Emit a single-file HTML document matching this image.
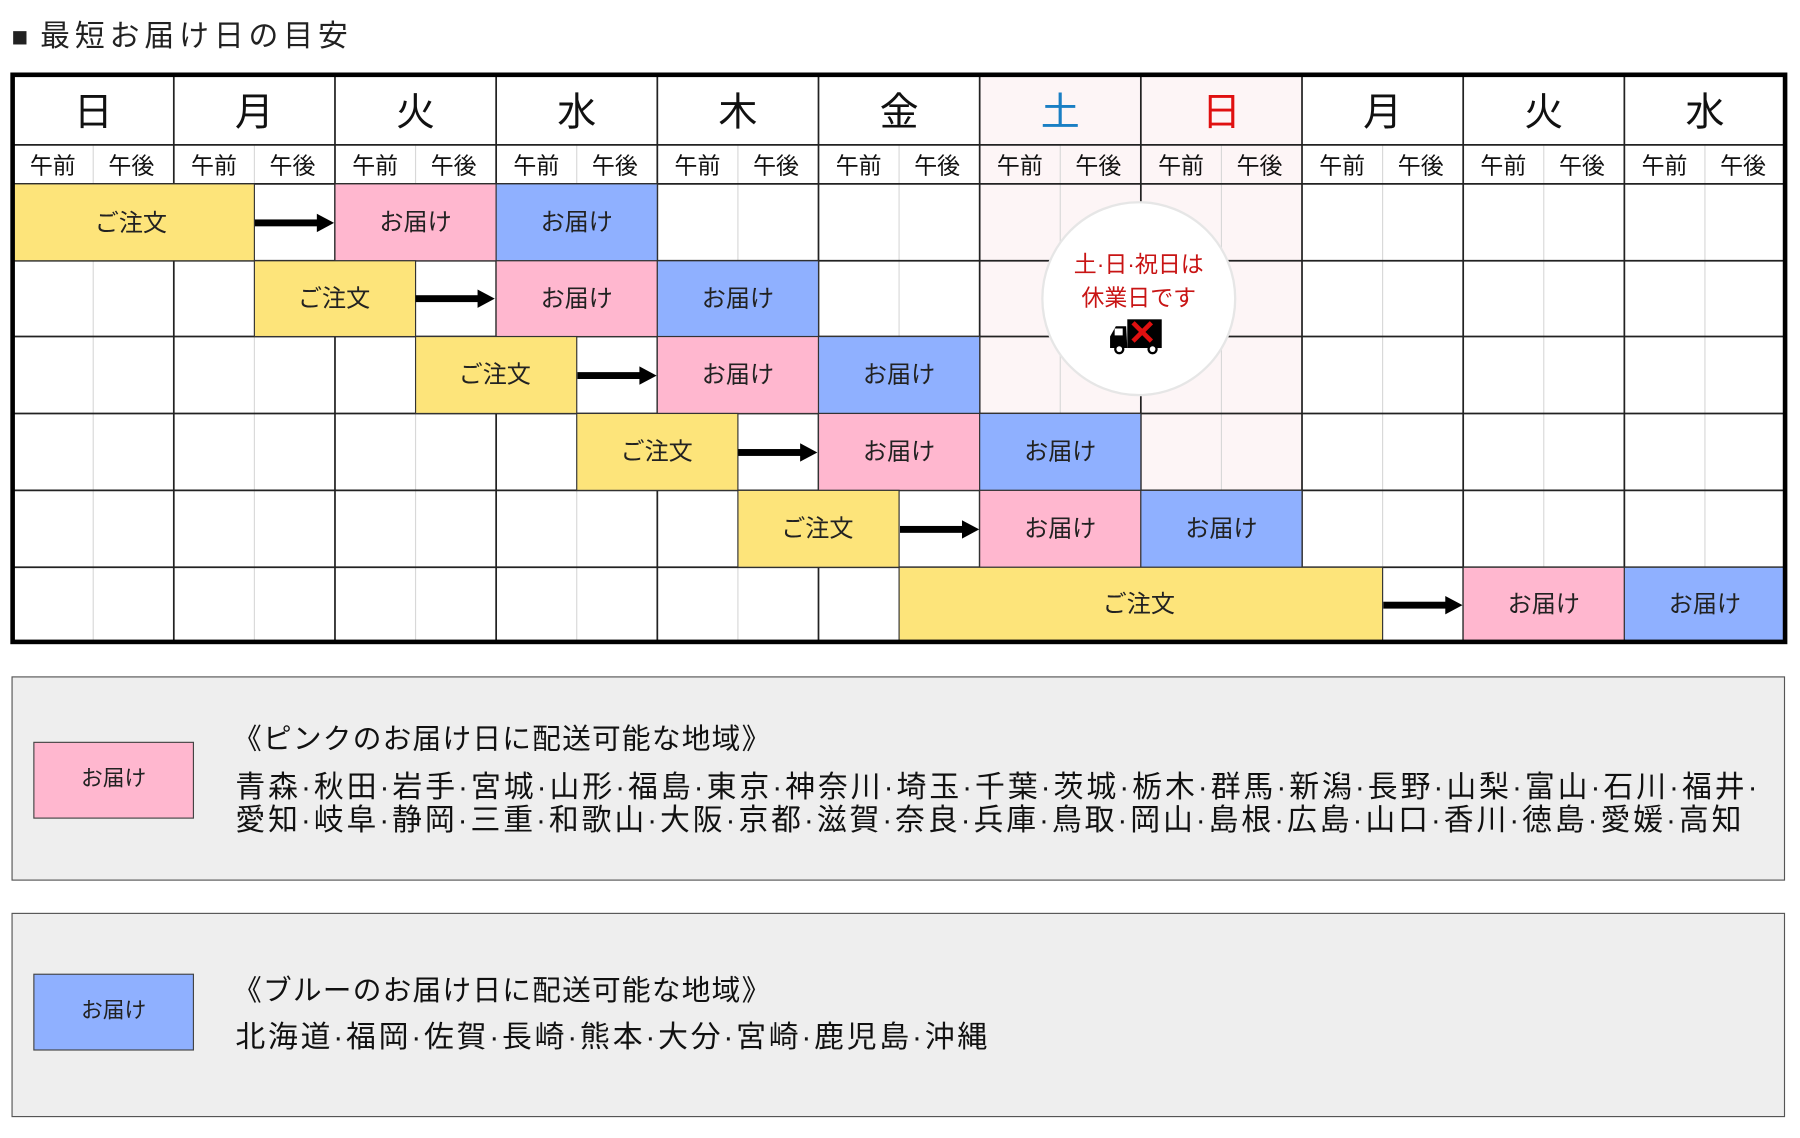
<!DOCTYPE html>
<html><head><meta charset="utf-8"><style>
html,body{margin:0;padding:0;background:#fff;width:1800px;height:1138px;overflow:hidden}
svg{display:block}
text{font-family:"Liberation Sans","Noto Sans CJK JP",sans-serif;}
</style></head><body>
<svg width="1800" height="1138" viewBox="0 0 1568 991" xmlns="http://www.w3.org/2000/svg">
<rect width="1568" height="991" fill="#fff"/>
<text x="10" y="40" font-size="24" fill="#222">■</text>
<text x="35" y="40" font-size="26" fill="#222" textLength="268">最短お届け日の目安</text>

<rect x="853.4" y="65" width="280.8" height="362" fill="#fdf5f6"/>

<g stroke="#d8d8d8" stroke-width="1">
<line x1="81.2" y1="126" x2="81.2" y2="559"/><line x1="221.6" y1="126" x2="221.6" y2="559"/>
<line x1="362" y1="126" x2="362" y2="559"/><line x1="502.4" y1="126" x2="502.4" y2="559"/>
<line x1="642.8" y1="126" x2="642.8" y2="559"/><line x1="783.2" y1="126" x2="783.2" y2="559"/>
<line x1="923.6" y1="126" x2="923.6" y2="559"/><line x1="1064" y1="126" x2="1064" y2="559"/>
<line x1="1204.4" y1="126" x2="1204.4" y2="559"/><line x1="1344.8" y1="126" x2="1344.8" y2="559"/>
<line x1="1485.2" y1="126" x2="1485.2" y2="559"/>
</g>
<g stroke="#222" stroke-width="1.5">
<line x1="151.4" y1="65" x2="151.4" y2="559"/><line x1="291.8" y1="65" x2="291.8" y2="559"/>
<line x1="432.2" y1="65" x2="432.2" y2="559"/><line x1="572.6" y1="65" x2="572.6" y2="559"/>
<line x1="713" y1="65" x2="713" y2="559"/><line x1="853.4" y1="65" x2="853.4" y2="559"/>
<line x1="993.8" y1="65" x2="993.8" y2="559"/><line x1="1134.2" y1="65" x2="1134.2" y2="559"/>
<line x1="1274.6" y1="65" x2="1274.6" y2="559"/><line x1="1415" y1="65" x2="1415" y2="559"/>
<line x1="11" y1="126" x2="1555" y2="126"/><line x1="11" y1="160" x2="1555" y2="160"/>
<line x1="11" y1="227" x2="1555" y2="227"/><line x1="11" y1="293" x2="1555" y2="293"/>
<line x1="11" y1="360" x2="1555" y2="360"/><line x1="11" y1="427" x2="1555" y2="427"/>
<line x1="11" y1="494" x2="1555" y2="494"/>
</g>

<g font-size="34" text-anchor="middle" fill="#111">
<text x="81.2" y="109">日</text><text x="221.6" y="109">月</text><text x="362" y="109">火</text>
<text x="502.4" y="109">水</text><text x="642.8" y="109">木</text><text x="783.2" y="109">金</text>
<text x="923.6" y="109" fill="#1a7fc4">土</text><text x="1064" y="109" fill="#e01010">日</text>
<text x="1204.4" y="109">月</text><text x="1344.8" y="109">火</text><text x="1485.2" y="109">水</text>
</g>
<g font-size="20" text-anchor="middle" fill="#111">
<text x="46" y="151">午前</text><text x="114.4" y="151">午後</text>
<text x="186.4" y="151">午前</text><text x="254.8" y="151">午後</text>
<text x="326.8" y="151">午前</text><text x="395.2" y="151">午後</text>
<text x="467.2" y="151">午前</text><text x="535.6" y="151">午後</text>
<text x="607.6" y="151">午前</text><text x="676" y="151">午後</text>
<text x="748" y="151">午前</text><text x="816.4" y="151">午後</text>
<text x="888.4" y="151">午前</text><text x="956.8" y="151">午後</text>
<text x="1028.8" y="151">午前</text><text x="1097.2" y="151">午後</text>
<text x="1169.2" y="151">午前</text><text x="1237.6" y="151">午後</text>
<text x="1309.6" y="151">午前</text><text x="1378" y="151">午後</text>
<text x="1450" y="151">午前</text><text x="1518.4" y="151">午後</text>
</g>

<g stroke="#333" stroke-width="1">
<rect x="11" y="160" width="210.6" height="67" fill="#fde47a"/>
<rect x="291.8" y="160" width="140.4" height="67" fill="#ffb7cf"/>
<rect x="432.2" y="160" width="140.4" height="67" fill="#8fb0ff"/>
<rect x="221.6" y="227" width="140.4" height="66" fill="#fde47a"/>
<rect x="432.2" y="227" width="140.4" height="66" fill="#ffb7cf"/>
<rect x="572.6" y="227" width="140.4" height="66" fill="#8fb0ff"/>
<rect x="362" y="293" width="140.4" height="67" fill="#fde47a"/>
<rect x="572.6" y="293" width="140.4" height="67" fill="#ffb7cf"/>
<rect x="713" y="293" width="140.4" height="67" fill="#8fb0ff"/>
<rect x="502.4" y="360" width="140.4" height="67" fill="#fde47a"/>
<rect x="713" y="360" width="140.4" height="67" fill="#ffb7cf"/>
<rect x="853.4" y="360" width="140.4" height="67" fill="#8fb0ff"/>
<rect x="642.8" y="427" width="140.4" height="67" fill="#fde47a"/>
<rect x="853.4" y="427" width="140.4" height="67" fill="#ffb7cf"/>
<rect x="993.8" y="427" width="140.4" height="67" fill="#8fb0ff"/>
<rect x="783.2" y="494" width="421.2" height="65" fill="#fde47a"/>
<rect x="1274.6" y="494" width="140.4" height="65" fill="#ffb7cf"/>
<rect x="1415" y="494" width="140.4" height="65" fill="#8fb0ff"/>
</g>
<g font-size="21" text-anchor="middle" fill="#222">
<text x="114" y="201">ご注文</text><text x="362" y="200">お届け</text><text x="502.4" y="200">お届け</text>
<text x="291" y="267">ご注文</text><text x="502.4" y="267">お届け</text><text x="642.8" y="267">お届け</text>
<text x="431" y="333">ご注文</text><text x="642.8" y="333">お届け</text><text x="783.2" y="333">お届け</text>
<text x="572" y="400">ご注文</text><text x="783.2" y="400">お届け</text><text x="923.6" y="400">お届け</text>
<text x="712" y="467">ご注文</text><text x="923.6" y="467">お届け</text><text x="1064" y="467">お届け</text>
<text x="992" y="533">ご注文</text><text x="1344.8" y="533">お届け</text><text x="1485.2" y="533">お届け</text>
</g>

<g fill="#000">
<rect x="222" y="191" width="55" height="6"/><polygon points="276,186 291,194 276,202"/>
<rect x="362" y="257" width="55" height="6"/><polygon points="416,252 431,260 416,268"/>
<rect x="503" y="324" width="55" height="6"/><polygon points="557,319 572,327 557,335"/>
<rect x="643" y="391" width="55" height="6"/><polygon points="697,386 712,394 697,402"/>
<rect x="784" y="458" width="55" height="6"/><polygon points="838,453 853,461 838,469"/>
<rect x="1205" y="524" width="55" height="6"/><polygon points="1259,519 1274,527 1259,535"/>
</g>

<rect x="11" y="65" width="1544" height="494" fill="none" stroke="#000" stroke-width="4"/>

<circle cx="992" cy="260" r="84" fill="#fff" stroke="#e6e6e6" stroke-width="2"/>
<g font-size="20" text-anchor="middle" fill="#c81414">
<text x="992" y="237">土·日·祝日は</text>
<text x="992" y="266">休業日です</text>
</g>
<g>
<rect x="982" y="278" width="30" height="25" fill="#000"/>
<path d="M981 284 L972 284 L967 293 L967 303 L982 303 Z" fill="#000"/>
<rect x="971" y="286" width="7" height="6" fill="#fff"/>
<circle cx="975" cy="304" r="3.5" fill="#fff" stroke="#000" stroke-width="2"/>
<circle cx="1004" cy="304" r="3.5" fill="#fff" stroke="#000" stroke-width="2"/>
<path d="M987 281 L1003 297 M1003 281 L987 297" stroke="#e01010" stroke-width="4"/>
</g>

<rect x="10.5" y="589.5" width="1544" height="177" fill="#eee" stroke="#555" stroke-width="1"/>
<rect x="29.5" y="646.5" width="139" height="66" fill="#ffb7cf" stroke="#444" stroke-width="1"/>
<text x="99" y="684" font-size="19" text-anchor="middle" fill="#222">お届け</text>
<text x="203" y="652" font-size="25" fill="#111" textLength="468">《ピンクのお届け日に配送可能な地域》</text>
<text x="205" y="694" font-size="26" fill="#111" textLength="1326">青森·秋田·岩手·宮城·山形·福島·東京·神奈川·埼玉·千葉·茨城·栃木·群馬·新潟·長野·山梨·富山·石川·福井·</text>
<text x="205" y="723" font-size="26" fill="#111" textLength="1312">愛知·岐阜·静岡·三重·和歌山·大阪·京都·滋賀·奈良·兵庫·鳥取·岡山·島根·広島·山口·香川·徳島·愛媛·高知</text>

<rect x="10.5" y="795.5" width="1544" height="177" fill="#eee" stroke="#555" stroke-width="1"/>
<rect x="29.5" y="848.5" width="139" height="66" fill="#8fb0ff" stroke="#444" stroke-width="1"/>
<text x="99" y="886" font-size="19" text-anchor="middle" fill="#222">お届け</text>
<text x="203" y="871" font-size="25" fill="#111" textLength="468">《ブルーのお届け日に配送可能な地域》</text>
<text x="205" y="912" font-size="26" fill="#111" textLength="655">北海道·福岡·佐賀·長崎·熊本·大分·宮崎·鹿児島·沖縄</text>
</svg>
</body></html>
